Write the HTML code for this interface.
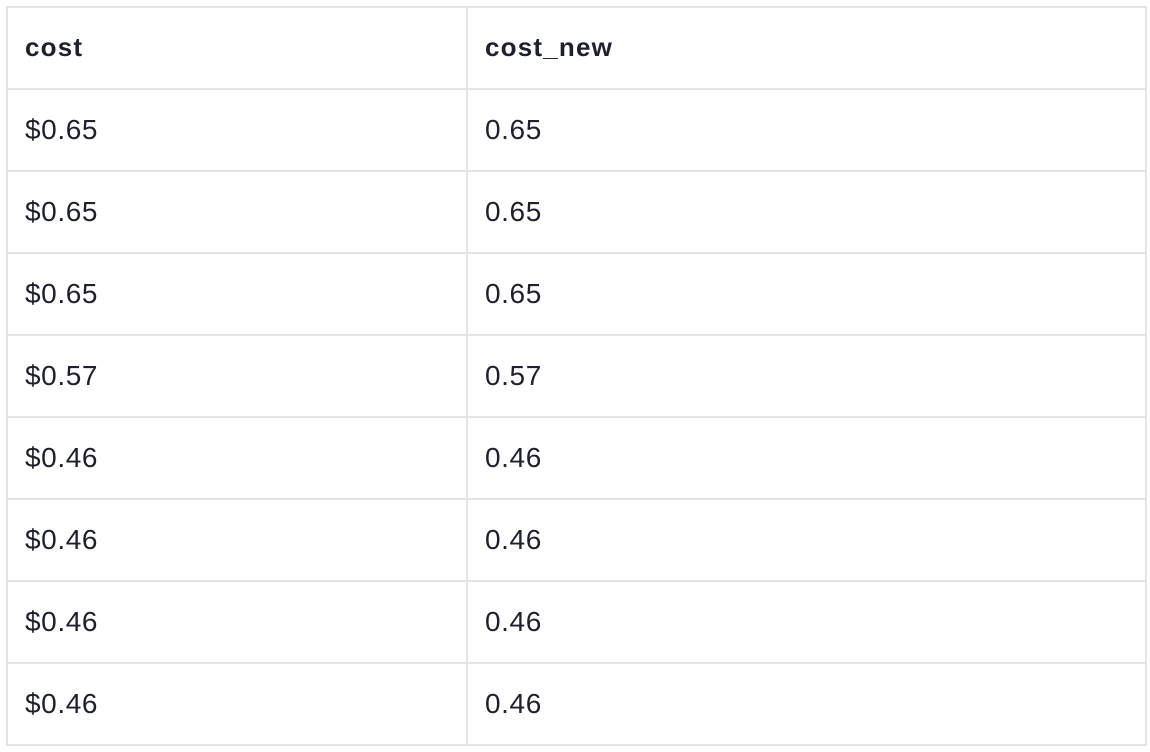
<!DOCTYPE html>
<html><head><meta charset="utf-8"><style>
body{margin:0;width:1150px;height:752px;background:#fff;font-family:"Liberation Sans",sans-serif;color:#1e2030;position:relative;overflow:hidden}
.grid{position:absolute;left:6px;top:6px;width:1137px;height:736px;border:2px solid #e4e4e4}
.hl{position:absolute;left:6px;width:1141px;height:2px;background:#e4e4e4}
.vl{position:absolute;left:466px;top:6px;width:2px;height:740px;background:#e4e4e4}
.c{position:absolute;height:82px;line-height:82px;font-size:28px;white-space:nowrap;letter-spacing:0.6px}
.h{font-weight:bold;font-size:26px;line-height:80px;letter-spacing:1.2px}
</style></head><body>
<div class="grid"></div>
<div class="vl"></div>
<div class="hl" style="top:88px"></div>
<div class="hl" style="top:170px"></div>
<div class="hl" style="top:252px"></div>
<div class="hl" style="top:334px"></div>
<div class="hl" style="top:416px"></div>
<div class="hl" style="top:498px"></div>
<div class="hl" style="top:580px"></div>
<div class="hl" style="top:662px"></div>
<div class="c h" style="left:25px;top:7px">cost</div>
<div class="c h" style="left:485px;top:7px">cost_new</div>
<div class="c" style="left:25px;top:89px">$0.65</div>
<div class="c" style="left:485px;top:89px">0.65</div>
<div class="c" style="left:25px;top:171px">$0.65</div>
<div class="c" style="left:485px;top:171px">0.65</div>
<div class="c" style="left:25px;top:253px">$0.65</div>
<div class="c" style="left:485px;top:253px">0.65</div>
<div class="c" style="left:25px;top:335px">$0.57</div>
<div class="c" style="left:485px;top:335px">0.57</div>
<div class="c" style="left:25px;top:417px">$0.46</div>
<div class="c" style="left:485px;top:417px">0.46</div>
<div class="c" style="left:25px;top:499px">$0.46</div>
<div class="c" style="left:485px;top:499px">0.46</div>
<div class="c" style="left:25px;top:581px">$0.46</div>
<div class="c" style="left:485px;top:581px">0.46</div>
<div class="c" style="left:25px;top:663px">$0.46</div>
<div class="c" style="left:485px;top:663px">0.46</div>
</body></html>
